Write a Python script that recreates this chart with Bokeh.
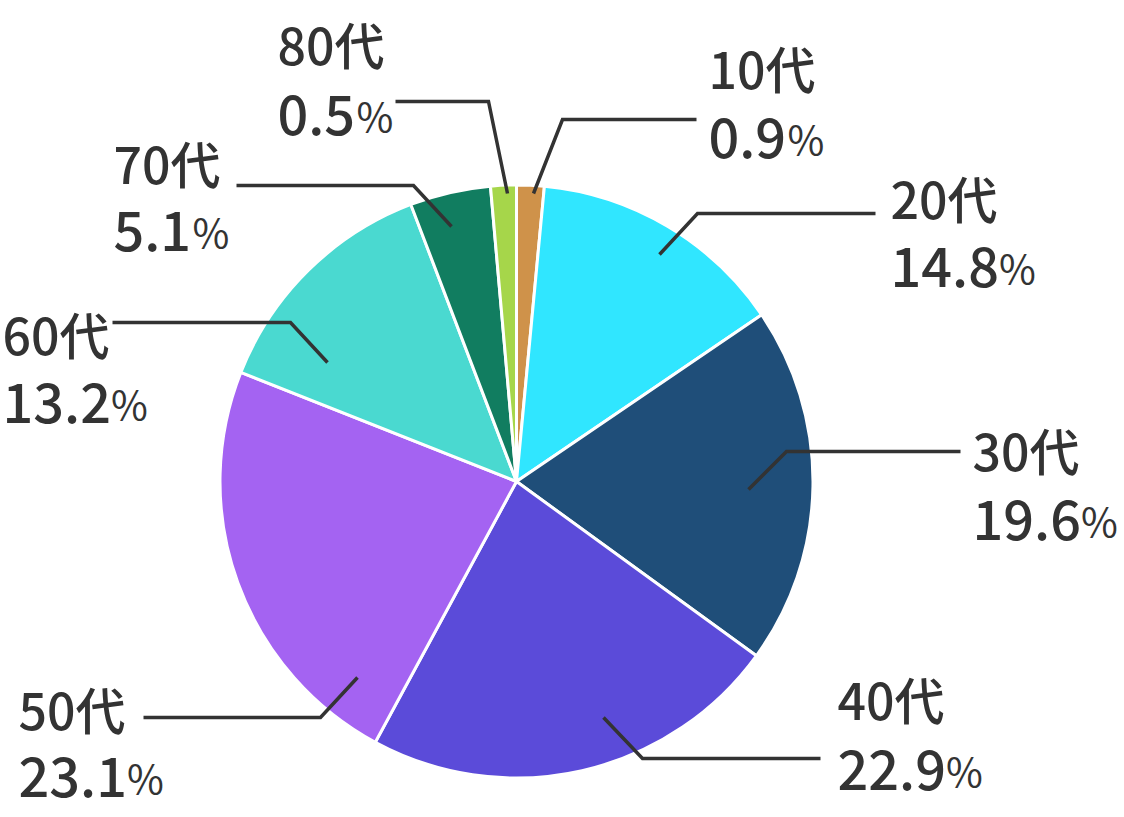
import numpy as np
from bokeh.plotting import figure
from bokeh.models import Range1d
from bokeh.core.properties import value
from bokeh.embed import file_html
from bokeh.resources import INLINE

# ---- data ----
ages = ["10代", "20代", "30代", "40代", "50代", "60代", "70代", "80代"]
pct_text = ["0.9", "14.8", "19.6", "22.9", "23.1", "13.2", "5.1", "0.5"]
shares = [1.5, 14.0, 19.5, 22.9, 23.1, 13.2, 4.4, 1.4]   # wedge sizes as drawn
colors = ["#CF924A", "#30E6FF", "#1F4E79", "#5B4BD9", "#A463F2", "#4AD9D0", "#117D60", "#A6D64A"]

# ---- layout (reference pixel coordinates, y downward) ----
W, H = 1124, 817
CX, CY, R = 516, 481, 296.5
# label: left x, baseline of line 1, baseline of line 2 (visual)
label_x = [708, 890, 972, 837, 18, 2, 113, 277]
label_y1 = [87, 217, 469, 718, 728, 353, 182, 63]
label_y2 = [158, 287, 540, 790, 797, 423, 251, 135]
BASE_SHIFT = 21
leaders = [
    [(533, 193), (562, 119), (696, 119)],
    [(659, 254), (697, 213), (875, 213)],
    [(748, 489), (786, 451), (960, 451)],
    [(603, 717), (642, 758), (820, 758)],
    [(357, 677), (320, 717), (143, 717)],
    [(327, 362), (290, 322), (112, 322)],
    [(451, 226), (413, 185), (236, 185)],
    [(507, 193), (488, 101), (395, 101)],
]

def fy(y):
    return 817 - y

p = figure(width=W, height=H, output_backend="svg", toolbar_location=None,
           x_range=Range1d(0, W), y_range=Range1d(817 - H, 817),
           min_border=0)
p.axis.visible = False
p.grid.visible = False
p.outline_line_color = None
p.background_fill_color = "white"
p.border_fill_color = "white"

vals = np.array(shares, dtype=float)
frac = vals / vals.sum()
cum = np.concatenate([[0], np.cumsum(frac)])
start = np.pi / 2 - cum[:-1] * 2 * np.pi
end = np.pi / 2 - cum[1:] * 2 * np.pi
p.wedge(x=CX, y=fy(CY), radius=R, start_angle=start, end_angle=end,
        direction="clock", fill_color=colors, line_color="white", line_width=3)

for pts in leaders:
    p.line([q[0] for q in pts], [fy(q[1]) for q in pts], line_color="#333333",
           line_width=3.5, line_join="miter")

FONT = value("Noto Sans CJK JP Medium")
FS1, FS2, FSP = 50, 54, 40

def est_width(s, fs):
    w = 0
    for ch in s:
        w += 0.28 * fs if ch == "." else 0.545 * fs
    return w

p.text(x=label_x, y=[fy(v - BASE_SHIFT) for v in label_y1], text=ages, text_font=FONT,
       text_font_size=f"{FS1}px", text_font_style="normal", text_color="#333333",
       text_baseline="alphabetic", text_align="left")
p.text(x=label_x, y=[fy(v - BASE_SHIFT) for v in label_y2], text=pct_text, text_font=FONT,
       text_font_size=f"{FS2}px", text_font_style="normal", text_color="#333333",
       text_baseline="alphabetic", text_align="left")
px = [x + est_width(s, FS2) + 5 for x, s in zip(label_x, pct_text)]
p.text(x=px, y=[fy(v - BASE_SHIFT) for v in label_y2], text=["%"] * len(px),
       text_font=value("Noto Sans CJK JP"),
       text_font_size=f"{FSP}px", text_font_style="normal", text_color="#333333",
       text_baseline="alphabetic", text_align="left")

open("out.html", "w").write(file_html(p, INLINE))
